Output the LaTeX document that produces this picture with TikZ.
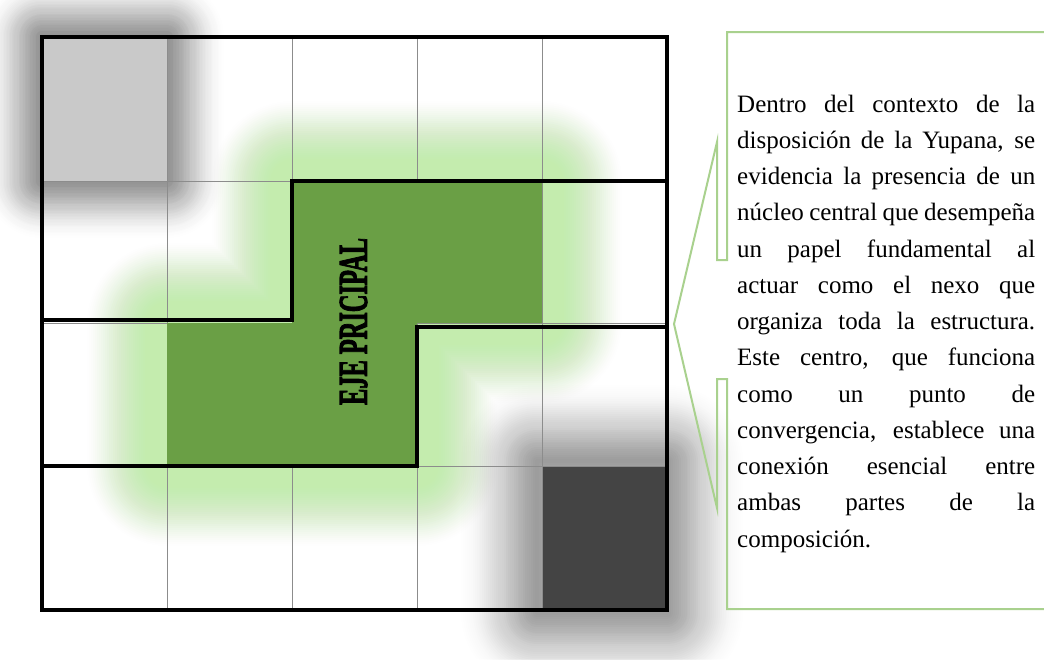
\documentclass[tikz,border=0pt]{standalone}
\usepackage{graphicx}
\usepackage{fontspec}
\setmainfont{Liberation Serif}
\newfontfamily\ejefont{Liberation Serif}[FakeBold=3]
\definecolor{ejegreen}{HTML}{6A9F45}
\definecolor{glowg}{HTML}{C4ECAE}
\definecolor{cellgray}{HTML}{C9C9C9}
\definecolor{celldark}{HTML}{444444}
\definecolor{shadA}{HTML}{7C7C7C}
\definecolor{shadB}{HTML}{868686}
\definecolor{callg}{HTML}{A9D18E}
\definecolor{thingray}{HTML}{8C8C8C}
\newcommand\jline[1]{\makebox[298pt][s]{#1}\\}
\tikzset{
  thinline/.style={thingray, line width=0.9pt},
  thickline/.style={black, line width=3.6pt, line join=miter, line cap=rect},
  callout/.style={callg, line width=2pt, line join=miter},
}
\begin{document}
\begin{tikzpicture}[x=1pt,y=-1pt]
\useasboundingbox (0,0) rectangle (1044,659);
\fill[white] (0,0) rectangle (1044,659);

% grid corner coordinates
\coordinate (g00) at (42,37);
\coordinate (g55) at (667,610);

% green glow around the main axis (soft falloff)
\foreach \k in {1,...,40}{
  \pgfmathsetmacro\w{2*80*\k/40}
  \pgfmathsetmacro\a{0.12*(1-\k/40)^0.6+0.002}
  \draw[glowg, line width=\w pt, opacity=\a, line join=round]
    (292,181) -- (542,181) -- (542,323) -- (417,323) -- (417,466)
    -- (167,466) -- (167,323) -- (292,323) -- cycle;
}
% shadow of top-left cell
\foreach \k in {1,...,40}{
  \pgfmathsetmacro\w{2*58*\k/40}
  \pgfmathsetmacro\a{0.062*(1-\k/40)+0.001}
  \draw[shadA, line width=\w pt, opacity=\a, line join=round]
    (42,37) rectangle (167,181);
}
% shadow of bottom-right cell
\foreach \k in {1,...,40}{
  \pgfmathsetmacro\w{2*78*\k/40}
  \pgfmathsetmacro\a{0.056*(1-\k/40)+0.001}
  \draw[shadB, line width=\w pt, opacity=\a, line join=round]
    (537,461) rectangle (667,613);
}

% thin grid lines
\foreach \x in {167,292,417,542}{
  \draw[thinline] (\x,37) -- (\x,610);
}
\foreach \y in {181,323,466}{
  \draw[thinline] (42,\y) -- (667,\y);
}

% filled cells
\fill[cellgray] (42,37) rectangle (167,181);
\fill[celldark] (542,466) rectangle (667,610);
\fill[ejegreen] (292,181) -- (542,181) -- (542,323) -- (417,323) -- (417,466)
    -- (167,466) -- (167,323) -- (292,323) -- cycle;
\draw[thinline] (542,466) rectangle (667,610);
\draw[thinline] (167,37) -- (167,181) (42,181) -- (167,181);

% thick region borders
\draw[thickline] (g00) rectangle (g55);
\draw[thickline] (42,320) -- (292,320) -- (292,181) -- (667,181);
\draw[thickline] (42,466) -- (417,466) -- (417,327) -- (667,327);

% axis label
\node[rotate=90, inner sep=0, text=black] (eje) at (353.5,321.5)
  {\resizebox{167pt}{27pt}{\ejefont\bfseries EJE PRICIPAL}};

% callout box
\draw[callout] (1050,32) -- (727,32) -- (727,260) -- (717,260) -- (717,142)
  -- (674,324) -- (717,508) -- (717,379) -- (727,379) -- (727,609) -- (1050,609);

% callout text
\node[anchor=base west, inner sep=0, text=black] (txt) at (737,112)
{\parbox[t]{298pt}{\fontsize{25pt}{36.25pt}\selectfont
\jline{Dentro del contexto de la}
\jline{disposición de la Yupana, se}
\jline{evidencia la presencia de un}
\jline{núcleo central que desempeña}
\jline{un papel fundamental al}
\jline{actuar como el nexo que}
\jline{organiza toda la estructura.}
\jline{Este centro, que funciona}
\jline{como un punto de}
\jline{convergencia, establece una}
\jline{conexión esencial entre}
\jline{ambas partes de la}
composición.}};
\end{tikzpicture}
\end{document}
